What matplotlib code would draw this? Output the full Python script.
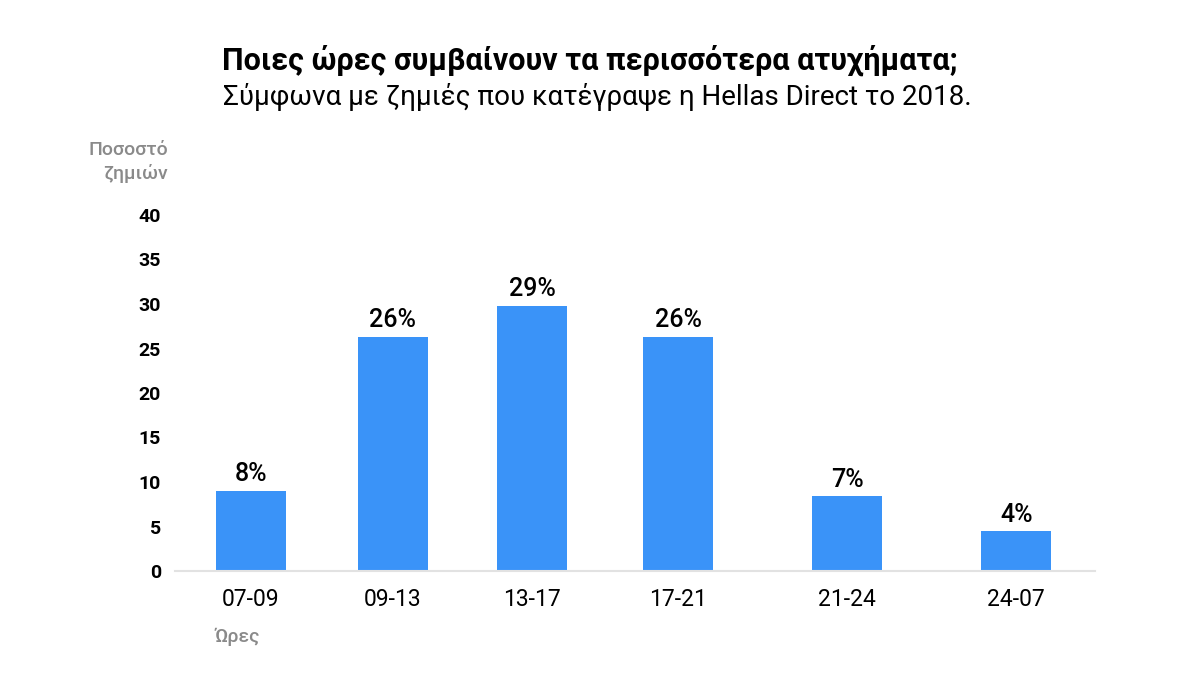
import numpy as np
import matplotlib
matplotlib.use('Agg')
import matplotlib.pyplot as plt

# %% Data
hours = ['07-09', '09-13', '13-17', '17-21', '21-24', '24-07']
share = [9.0, 26.3, 29.8, 26.3, 8.4, 4.5]  # bar heights as drawn
share_labels = ['8%', '26%', '29%', '26%', '7%', '4%']

# bar centres are not evenly spaced in the original
bar_pos = [0, 1, 1.98, 3.01, 4.2, 5.39]

plt.rcParams['font.family'] = ['Roboto', 'DejaVu Sans']

fig = plt.figure(figsize=(12.01, 6.91), dpi=100)
ax = fig.add_axes([175 / 1201, 1 - 571 / 691, 920 / 1201, 356 / 691])

bars = ax.bar(bar_pos, share, width=0.493, color='#3a93f8', zorder=2)
for b, lab in zip(bars, share_labels):
    ax.text(b.get_x() + b.get_width() / 2, b.get_height() + 0.5, lab,
            ha='center', va='bottom', fontsize=18, fontweight='medium', color='black')

ax.set_xlim(-0.535, 5.944)
ax.set_ylim(0, 40)
ax.set_yticks(np.arange(0, 41, 5))
ax.set_xticks(bar_pos)
ax.set_xticklabels(hours, fontsize=16.5)
for t in ax.get_yticklabels():
    t.set_fontweight('bold')
    t.set_fontsize(14)
ax.tick_params(axis='both', length=0)
ax.tick_params(axis='x', pad=12)
ax.tick_params(axis='y', pad=10)

for s in ['top', 'right', 'left']:
    ax.spines[s].set_visible(False)
ax.spines['bottom'].set_color('#e2e2e2')
ax.spines['bottom'].set_linewidth(1.5)

fig.text(590 / 1201, 1 - 60 / 691, 'Ποιες ώρες συμβαίνουν τα περισσότερα ατυχήματα;',
         ha='center', va='center', fontsize=22, fontweight='bold')
fig.text(597 / 1201, 1 - 97 / 691, 'Σύμφωνα με ζημιές που κατέγραψε η Hellas Direct το 2018.',
         ha='center', va='center', fontsize=20)
fig.text(168 / 1201, 1 - 162 / 691, 'Ποσοστό\nζημιών', ha='right', va='center',
         fontsize=14, color='#8a8a8a', linespacing=1.35, fontweight='medium')
fig.text(215 / 1201, 1 - 637 / 691, 'Ώρες', ha='left', va='center',
         fontsize=14, color='#8a8a8a', fontweight='medium')

fig.savefig('out.png', dpi=100)
